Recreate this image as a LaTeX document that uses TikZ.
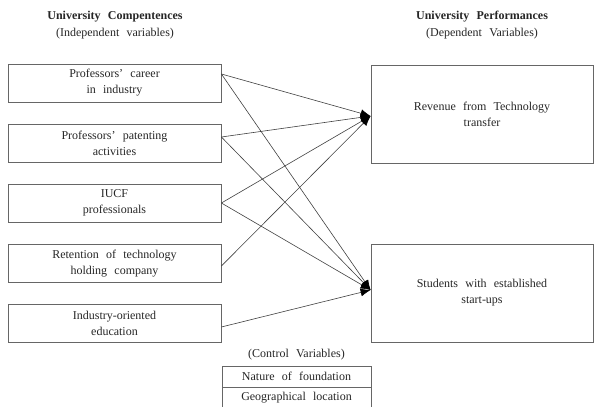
\documentclass[tikz,border=0pt]{standalone}
\usepackage{fontspec}
\setmainfont{Liberation Serif}
\usetikzlibrary{arrows.meta,calc}
\newcommand\widewsp{\spaceskip 0.6em\relax}
\begin{document}
\begin{tikzpicture}[x=1pt,y=-1pt,
  txt/.style={font={\fontsize{12}{16}\selectfont\widewsp}, text=black!85, align=center},
  box/.style={txt, draw=black!60, line width=0.8pt, inner sep=0pt},
  lbox/.style={box, minimum width=213pt, minimum height=38pt},
  rbox/.style={box, minimum width=222pt, minimum height=98pt},
  cbox/.style={box, minimum width=149pt, minimum height=21pt},
  head/.style={font={\fontsize{12}{17}\selectfont\widewsp}, text=black!85, align=center},
  link/.style={draw=black!75, line width=0.6pt, -{Latex[length=10pt,width=8pt,black]}}
]
\useasboundingbox (0,0) rectangle (598,407);
\node[head] (h1) at (115,25) {\textbf{University Compentences}\\(Independent variables)};
\node[head] (h2) at (482,25) {\textbf{University Performances}\\(Dependent Variables)};

\node[lbox] (c1) at (114.5,83) {Professors' career\\in industry};
\node[lbox] (c2) at (114.5,143) {Professors' patenting\\activities};
\node[lbox] (c3) at (114.5,203) {IUCF\\professionals};
\node[lbox] (c4) at (114.5,263.5) {Retention of technology\\holding company};
\node[lbox] (c5) at (114.5,323) {Industry-oriented\\education};

\node[rbox] (r1) at (482,114) {Revenue from Technology\\transfer};
\node[rbox] (r2) at (482,293) {Students with established\\start-ups};

\node[txt] (cv) at (296.5,355) {(Control Variables)};
\node[cbox] (n1) at (296.5,376.5) {Nature of foundation};
\node[cbox] (n2) at (296.5,397.5) {Geographical location};

\draw[link] ([yshift=9pt]c1.east) -- ([yshift=-2pt]r1.west);
\draw[link] ([yshift=9pt]c1.east) -- ([yshift=3pt]r2.west);
\draw[link] ([yshift=6pt]c2.east) -- ([yshift=-2pt]r1.west);
\draw[link] ([yshift=6pt]c2.east) -- ([yshift=3pt]r2.west);
\draw[link] (c3.east) -- ([yshift=-2pt]r1.west);
\draw[link] (c3.east) -- ([yshift=3pt]r2.west);
\draw[link] ([yshift=-2.5pt]c4.east) -- ([yshift=-2pt]r1.west);
\draw[link] ([yshift=-4pt]c5.east) -- ([yshift=3pt]r2.west);
\end{tikzpicture}
\end{document}
